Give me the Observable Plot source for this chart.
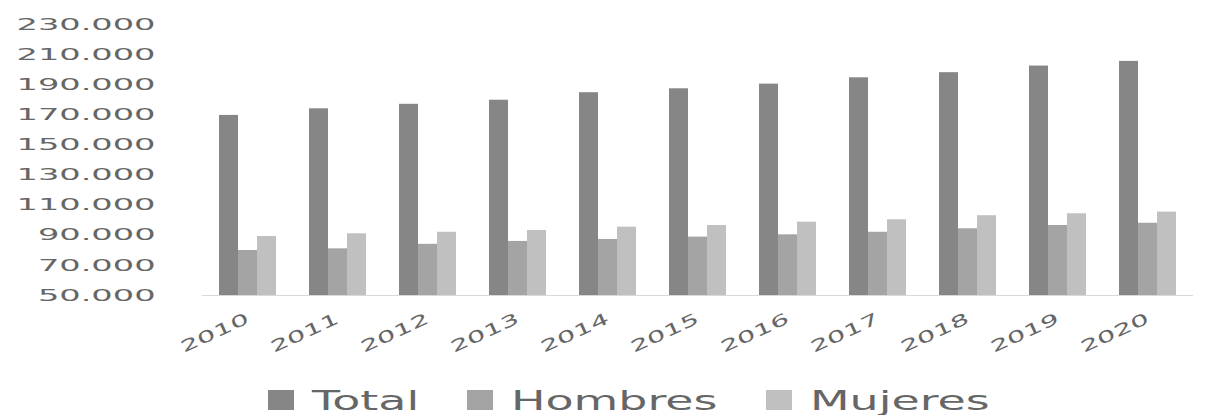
<!DOCTYPE html>
<html>
<head>
<meta charset="utf-8">
<script src="https://cdn.jsdelivr.net/npm/d3@7"></script>
<script src="https://cdn.jsdelivr.net/npm/@observablehq/plot@0.6"></script>
<style>
  html, body { margin: 0; padding: 0; background: #fff; }
  body { width: 1206px; height: 415px; overflow: hidden; font-family: "DejaVu Sans", sans-serif; }
  #chart svg { display: block; }
  #legend {
    display: flex; align-items: center; box-sizing: border-box;
    height: 45px; padding-top: 15px; padding-left: 268px;
    color: #666; font-size: 27px; line-height: 1;
  }
  #legend .sw { display: inline-block; width: 26px; height: 20px; margin-right: 18px; }
  #legend .lb { display: inline-block; white-space: nowrap; transform-origin: left center; }
</style>
</head>
<body>
<div id="chart"></div>
<div id="legend"></div>
<script>
// Población por año, total y por sexo
const years = ["2010", "2011", "2012", "2013", "2014", "2015", "2016", "2017", "2018", "2019", "2020"];
const seriesNames = ["Total", "Hombres", "Mujeres"];
const total   = [169600, 174000, 177000, 179700, 184700, 187300, 190400, 194600, 198000, 202400, 205500];
const hombres = [79900, 81000, 84000, 85900, 87200, 88800, 90300, 92000, 94300, 96500, 98000];
const mujeres = [89200, 91000, 92000, 93200, 95400, 96500, 98700, 100300, 103000, 104300, 105400];
const yTicks  = [50000, 70000, 90000, 110000, 130000, 150000, 170000, 190000, 210000, 230000];
const seriesColors = ["#868686", "#a4a4a4", "#c0c0c0"];

const valuesBySerie = {Total: total, Hombres: hombres, Mujeres: mujeres};
const rows = years.flatMap((year, i) =>
  seriesNames.map(serie => ({year, serie, value: valuesBySerie[serie][i]}))
);

// separador de miles con punto
const esFormat = d3.formatLocale({decimal: ",", thousands: ".", grouping: [3], currency: ["", " €"]}).format(",");

const chart = Plot.plot({
  width: 1206,
  height: 370,
  marginTop: 24,
  marginBottom: 75,
  marginLeft: 201,
  marginRight: 12,
  style: {background: "#fff", color: "#666", fontFamily: "DejaVu Sans, sans-serif", fontSize: "16px"},
  fx: {domain: years, paddingInner: 0.368, paddingOuter: 0.184, axis: "bottom", label: null,
       tickSize: 0, tickPadding: 22, tickRotate: -25},
  x: {domain: seriesNames, padding: 0, axis: null},
  y: {domain: [50000, 230000], ticks: yTicks, tickFormat: esFormat, tickSize: 0, tickPadding: 64, label: null},
  color: {domain: seriesNames, range: seriesColors},
  marks: [
    Plot.ruleY(rows.filter(d => d.serie === "Total"), {fx: "year", y: () => 50000, stroke: "#d9d9d9", insetLeft: -17, insetRight: -17}),
    Plot.barY(rows, {fx: "year", x: "serie", y1: 50000, y2: "value", fill: "serie"})
  ]
});
document.getElementById("chart").append(chart);

// ensanchar horizontalmente las etiquetas de los ejes
function stretch(t, k) {
  const w = t.getComputedTextLength();
  t.setAttribute("textLength", (w * k).toFixed(1));
  t.setAttribute("lengthAdjust", "spacingAndGlyphs");
}
chart.querySelectorAll("text").forEach(t => {
  const s = t.textContent.trim();
  if (/^\d{4}$/.test(s)) { t.setAttribute("font-size", "16"); stretch(t, 1.8); }
  else if (s.includes(".")) { stretch(t, 2.1); }
});

// leyenda
const legend = document.getElementById("legend");
seriesNames.forEach((name, i) => {
  const item = document.createElement("span");
  item.style.display = "inline-flex";
  item.style.alignItems = "center";
  const sw = document.createElement("span");
  sw.className = "sw";
  sw.style.background = seriesColors[i];
  const lb = document.createElement("span");
  lb.className = "lb";
  lb.textContent = name;
  item.append(sw, lb);
  legend.append(item);
  const w = lb.getBoundingClientRect().width;
  lb.style.transform = "scaleX(1.7)";
  lb.style.marginRight = (w * 0.7 + (i < seriesNames.length - 1 ? 48 : 0)) + "px";
});
</script>
</body>
</html>
